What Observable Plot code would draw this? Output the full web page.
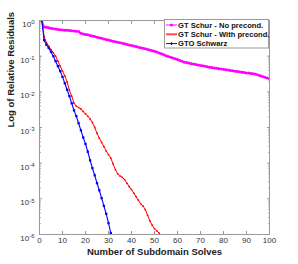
<!DOCTYPE html>
<html><head><meta charset="utf-8">
<script src="https://cdn.jsdelivr.net/npm/d3@7"></script>
<script src="https://cdn.jsdelivr.net/npm/@observablehq/plot@0.6"></script>
<style>
body{margin:0;background:#fff}
#chart{position:relative;width:298px;height:264px}
</style>
</head><body><div id="chart"></div>
<script>
// Series names
const seriesNames = ["GT Schur - No precond.", "GT Schur - With precond.", "GTO Schwarz"];
const seriesColors = ["#ff00ff", "#ff0000", "#0000ff"];
// log10 of relative residual, one value per subdomain solve starting at 1
const noPrecondLog10 = [
  0, -0.18, -0.19, -0.20, -0.22, -0.23, -0.24, -0.25, -0.26, -0.265,
  -0.27, -0.275, -0.28, -0.29, -0.295, -0.30, -0.31, -0.36, -0.375, -0.39,
  -0.40, -0.42, -0.435, -0.45, -0.47, -0.485, -0.50, -0.52, -0.535, -0.55,
  -0.565, -0.58, -0.595, -0.61, -0.625, -0.64, -0.655, -0.67, -0.685, -0.70,
  -0.715, -0.73, -0.75, -0.765, -0.78, -0.795, -0.81, -0.83, -0.845, -0.86,
  -0.885, -0.91, -0.935, -0.96, -0.985, -1.01, -1.03, -1.05, -1.07, -1.09,
  -1.12, -1.145, -1.17, -1.18, -1.195, -1.21, -1.22, -1.235, -1.245, -1.26,
  -1.27, -1.285, -1.295, -1.31, -1.32, -1.33, -1.34, -1.35, -1.36, -1.37,
  -1.38, -1.39, -1.40, -1.41, -1.42, -1.43, -1.44, -1.45, -1.46, -1.47,
  -1.475, -1.485, -1.49, -1.51, -1.53, -1.55, -1.57, -1.59, -1.61, -1.63
];
const withPrecondLog10 = [
  0, -0.45, -0.62, -0.72, -0.82, -0.90, -1.00, -1.14, -1.28, -1.42,
  -1.55, -1.72, -1.95, -2.12, -2.32, -2.40, -2.44, -2.48, -2.55, -2.62,
  -2.68, -2.76, -2.86, -3.00, -3.16, -3.30, -3.42, -3.54, -3.66, -3.76,
  -3.86, -4.02, -4.18, -4.30, -4.36, -4.40, -4.46, -4.56, -4.66, -4.74,
  -4.84, -4.94, -5.04, -5.14, -5.20, -5.30, -5.46, -5.62, -5.74, -5.84,
  -5.90, -5.96, -6.02
];
const schwarzLog10 = [
  0, -0.55, -0.68, -0.77, -0.88, -1.00, -1.14, -1.28, -1.42, -1.58,
  -1.76, -1.94, -2.12, -2.32, -2.52, -2.68, -2.88, -3.08, -3.28, -3.46,
  -3.68, -3.92, -4.14, -4.34, -4.56, -4.76, -4.98, -5.20, -5.42, -5.68,
  -5.96
];
const xTicks = [0, 10, 20, 30, 40, 50, 60, 70, 80, 90, 100];
const yTickExponents = [0, -1, -2, -3, -4, -5, -6];
const xLabel = "Number of Subdomain Solves";
const yLabel = "Log of Relative Residuals";

const allSeries = [noPrecondLog10, withPrecondLog10, schwarzLog10];
const data = allSeries.flatMap((arr, s) => arr.map((v, i) => ({x: i + 1, y: Math.pow(10, v), s: seriesNames[s]})));
const yTicks = yTickExponents.map(e => Math.pow(10, e));
const minorTicks = [];
for (const e of yTickExponents.slice(1)) for (let m = 2; m <= 9; m++) minorTicks.push(m * Math.pow(10, e));

const color = {domain: seriesNames, range: seriesColors};
const frameColor = "#9a9a9a";

const chart = Plot.plot({
  width: 298, height: 264,
  marginLeft: 39, marginRight: 29, marginTop: 20, marginBottom: 30,
  style: {fontFamily: "Liberation Sans, Arial, sans-serif", fontSize: "8px", color: "#333", background: "#fff"},
  x: {domain: [0, 100]},
  y: {type: "log", domain: [1e-6, 1]},
  color,
  marks: [
    Plot.line(data.filter(d => d.s === seriesNames[0]), {x: "x", y: "y", stroke: "s", strokeWidth: 1.6, clip: true}),
    Plot.dot(data.filter(d => d.s === seriesNames[0]), {x: "x", y: "y", fill: "s", r: 1.5, clip: true}),
    Plot.line(data.filter(d => d.s === seriesNames[1]), {x: "x", y: "y", stroke: "s", strokeWidth: 1, clip: true}),
    Plot.dot(data.filter(d => d.s === seriesNames[1]), {x: "x", y: "y", fill: "s", r: 0.9, clip: true}),
    Plot.line(data.filter(d => d.s === seriesNames[2]), {x: "x", y: "y", stroke: "s", strokeWidth: 1.1, clip: true}),
    Plot.dot(data.filter(d => d.s === seriesNames[2]), {x: "x", y: "y", symbol: "square", fill: "s", r: 1.3, clip: true}),
    Plot.frame({stroke: frameColor}),
    Plot.axisX({anchor: "bottom", ticks: xTicks, tickSize: -3, stroke: frameColor, tickFormat: () => "", label: null}),
    Plot.axisX({anchor: "top", ticks: xTicks, tickSize: -3, stroke: frameColor, tickFormat: () => "", label: null}),
    Plot.axisX({anchor: "bottom", ticks: xTicks, tickSize: 0, tickPadding: 3, tickFormat: d => String(d), label: null, fill: "#333"}),
    Plot.axisY({anchor: "left", ticks: yTicks, tickSize: -3, stroke: frameColor, tickFormat: () => "", label: null}),
    Plot.axisY({anchor: "right", ticks: yTicks, tickSize: -3, stroke: frameColor, tickFormat: () => "", label: null}),
    Plot.axisY({anchor: "left", ticks: minorTicks, tickSize: -1.8, stroke: frameColor, tickFormat: () => "", label: null}),
    Plot.axisY({anchor: "right", ticks: minorTicks, tickSize: -1.8, stroke: frameColor, tickFormat: () => "", label: null}),
    Plot.axisY({anchor: "left", ticks: yTicks, tickSize: 0, tickPadding: 5, tickFormat: d => "10^" + Math.round(Math.log10(d)), label: null, fill: "#333", className: "ylab"}),
    Plot.text([xLabel], {frameAnchor: "bottom", dy: 20.5, text: d => d, fontWeight: "bold", fontSize: 9.5, fill: "#222"}),
    Plot.text([yLabel], {frameAnchor: "left", dx: -29, rotate: -90, text: d => d, fontWeight: "bold", fontSize: 9.5, fill: "#222"})
  ]
});

// superscript exponents for y tick labels
d3.select(chart).selectAll(".ylab text").each(function() {
  const t = this.textContent;
  if (!t.startsWith("10^")) return;
  const exp = t.slice(3);
  const sel = d3.select(this);
  sel.text("10");
  sel.append("tspan").attr("dy", "-0.45em").attr("font-size", "6px").text(exp);
  sel.attr("dy", "0.5em");
});

// legend
const svg = d3.select(chart);
const lg = svg.append("g")
  .attr("font-family", "Liberation Sans, Arial, sans-serif")
  .attr("font-size", "7.6px").attr("font-weight", "bold")
  .attr("text-anchor", "start");
lg.append("rect").attr("x", 164.5).attr("y", 19.5).attr("width", 104).attr("height", 28.5)
  .attr("fill", "#fff").attr("stroke", frameColor).attr("stroke-width", 1);
seriesNames.forEach((name, i) => {
  const y = 25 + i * 9.3;
  lg.append("line").attr("x1", 166).attr("x2", 177).attr("y1", y).attr("y2", y)
    .attr("stroke", seriesColors[i]).attr("stroke-width", i === 1 ? 2 : 1).attr("stroke-opacity", i === 1 ? 0.7 : 1);
  if (i === 0) lg.append("circle").attr("cx", 171.5).attr("cy", y).attr("r", 1.5).attr("fill", seriesColors[i]);
  if (i === 2) lg.append("path").attr("d", `M170,${y}h3M171.5,${y - 1.5}v3`).attr("stroke", seriesColors[i]).attr("stroke-width", 1);
  lg.append("text").attr("x", 178).attr("y", y).attr("dy", "0.35em").attr("text-anchor", "start").attr("fill", "#111").text(name);
});

document.getElementById("chart").appendChild(chart);
</script>
</body></html>
